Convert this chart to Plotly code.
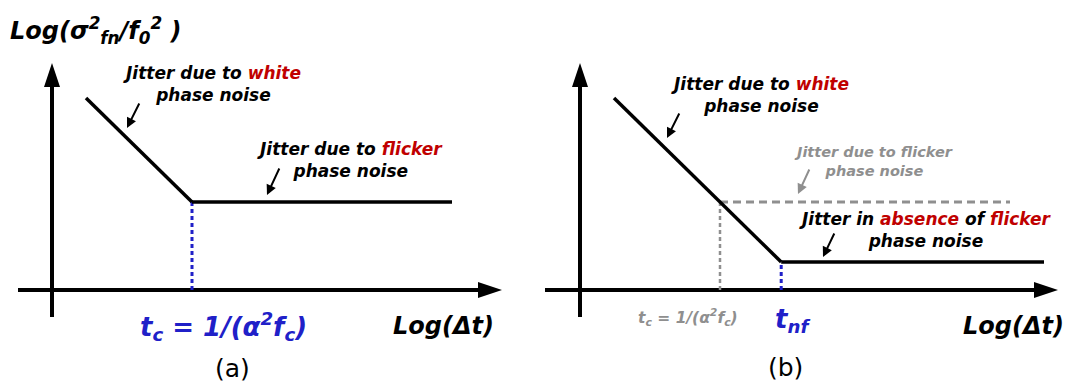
import plotly.graph_objects as go

# ---- panel (a): white-noise slope that levels off at the flicker floor ----
white_a_x = [0.85, 3.5]
white_a_y = [4.8, 2.2]
flicker_a_x = [3.5, 10.0]
flicker_a_y = [2.2, 2.2]

# ---- panel (b): same slope continued down to the floor without flicker ----
white_b_x = [0.85, 5.03]
white_b_y = [4.8, 0.7]
floor_b_x = [5.03, 11.6]
floor_b_y = [0.7, 0.7]
flicker_b_x = [3.5, 10.75]
flicker_b_y = [2.2, 2.2]

t_c = 3.5
t_nf = 5.03

# axis extents (arrow tips) for both panels
axis_a_x = [-0.85, 11.25]
axis_b_x = [-0.875, 11.95]
axis_y = [-0.675, 5.675]

BLACK = "#000000"
RED = "#c00000"
BLUE = "#2020c8"
GREY = "#8f8f8f"
HEAD_LEN = 0.6
HEAD_HALF = 0.2

fig = go.Figure()


def line(xs, ys, xa, ya, color=BLACK, width=3.5, dash="solid"):
    fig.add_trace(go.Scatter(x=xs, y=ys, xaxis=xa, yaxis=ya, mode="lines",
                             line=dict(color=color, width=width, dash=dash),
                             hoverinfo="skip", showlegend=False))


def head(xs, ys, xa, ya):
    fig.add_trace(go.Scatter(x=xs, y=ys, xaxis=xa, yaxis=ya, mode="lines",
                             fill="toself", fillcolor=BLACK, line=dict(width=0),
                             hoverinfo="skip", showlegend=False))


def axes_pair(x_ext, xa, ya):
    x0, x1 = x_ext
    y0, y1 = axis_y
    # horizontal axis
    line([x0, x1 - HEAD_LEN], [0, 0], xa, ya, width=4)
    head([x1, x1 - HEAD_LEN, x1 - HEAD_LEN, x1], [0, HEAD_HALF, -HEAD_HALF, 0], xa, ya)
    # vertical axis
    line([0, 0], [y0, y1 - HEAD_LEN], xa, ya, width=4)
    head([0, HEAD_HALF, -HEAD_HALF, 0], [y1, y1 - HEAD_LEN, y1 - HEAD_LEN, y1], xa, ya)


# panel (a)
axes_pair(axis_a_x, "x", "y")
line([t_c, t_c], [0, flicker_a_y[0]], "x", "y", color=BLUE, width=3, dash="4px,3px")
line(white_a_x, white_a_y, "x", "y")
line(flicker_a_x, flicker_a_y, "x", "y")

# panel (b)
axes_pair(axis_b_x, "x2", "y2")
line([t_c, t_c], [0, flicker_b_y[0]], "x2", "y2", color=GREY, width=2.5, dash="4px,3px")
line([t_nf, t_nf], [0, floor_b_y[0]], "x2", "y2", color=BLUE, width=3, dash="4px,3px")
line(flicker_b_x, flicker_b_y, "x2", "y2", color=GREY, width=3, dash="8px,5px")
line(white_b_x, white_b_y, "x2", "y2")
line(floor_b_x, floor_b_y, "x2", "y2")

FONT = "DejaVu Sans"


def pointer(x, y, ax, ay, xr, yr, color=BLACK):
    fig.add_annotation(x=x, y=y, ax=ax, ay=ay, xref=xr, yref=yr, axref=xr, ayref=yr,
                       text="", showarrow=True, arrowhead=2, arrowsize=1,
                       arrowwidth=2, arrowcolor=color)


def label(x, y, text, xr, yr, size, color=BLACK, xanchor="center"):
    fig.add_annotation(x=x, y=y, xref=xr, yref=yr, text=text, showarrow=False,
                       xanchor=xanchor, yanchor="middle", align="center",
                       font=dict(family=FONT, size=size, color=color))


def red(s):
    return f"<span style='color:{RED}'>{s}</span>"


ylab = "<b><i>Log(σ<sup>2</sup><sub>fn</sub>/f<sub>0</sub><sup>2</sup> )</i></b>"
xlab = "<b><i>Log(Δt)</i></b>"
tc_text = "<b><i>t<sub>c</sub> = 1/(α<sup>2</sup>f<sub>c</sub>)</i></b>"

# panel (a) text
label(-1.1, 6.5, ylab, "x", "y", 24, xanchor="left")
label(4.0, 5.15, f"<b><i>Jitter due to {red('white')}<br>phase noise</i></b>", "x", "y", 17)
label(7.45, 3.25, f"<b><i>Jitter due to {red('flicker')}<br>phase noise</i></b>", "x", "y", 17)
pointer(1.875, 4.05, 2.2, 4.7, "x", "y")
pointer(5.375, 2.375, 5.7, 3.075, "x", "y")
label(4.275, -0.9, tc_text, "x", "y", 26, color=BLUE)
label(9.775, -0.9, xlab, "x", "y", 24)
label(4.5, -1.95, "(a)", "x", "y", 25)

# panel (b) text
label(-1.3, 6.5, ylab, "x2", "y2", 24, xanchor="left")
label(4.5, 4.875, f"<b><i>Jitter due to {red('white')}<br>phase noise</i></b>", "x2", "y2", 17)
label(7.325, 3.225, "<b><i>Jitter due to flicker<br>phase noise</i></b>", "x2", "y2", 14.5, color=GREY)
label(8.625, 1.5, f"<b><i>Jitter in {red('absence')} of {red('flicker')}<br>phase noise</i></b>", "x2", "y2", 17)
pointer(2.175, 3.8, 2.5, 4.45, "x2", "y2")
pointer(5.45, 2.4, 5.75, 3.05, "x2", "y2", color=GREY)
pointer(6.075, 0.825, 6.375, 1.45, "x2", "y2")
label(2.7, -0.675, tc_text, "x2", "y2", 15.5, color=GREY)
label(5.3, -0.75, "<b><i>t<sub>nf</sub></i></b>", "x2", "y2", 26, color=BLUE)
label(10.825, -0.9, xlab, "x2", "y2", 24)
label(5.125, -1.925, "(b)", "x2", "y2", 25)

hidden = dict(visible=False, showgrid=False, zeroline=False, fixedrange=True)
fig.update_layout(
    width=1067, height=390,
    margin=dict(l=0, r=0, t=0, b=0),
    paper_bgcolor="white", plot_bgcolor="white",
    font=dict(family=FONT, color=BLACK),
    xaxis=dict(hidden, domain=[0, 0.5], range=[-1.3, 12.0375]),
    yaxis=dict(hidden, domain=[0, 1], range=[-2.5, 7.25]),
    xaxis2=dict(hidden, domain=[0.5, 1], range=[-1.1625, 12.175]),
    yaxis2=dict(hidden, domain=[0, 1], range=[-2.5, 7.25]),
    showlegend=False,
)

fig.write_html("out.html")
